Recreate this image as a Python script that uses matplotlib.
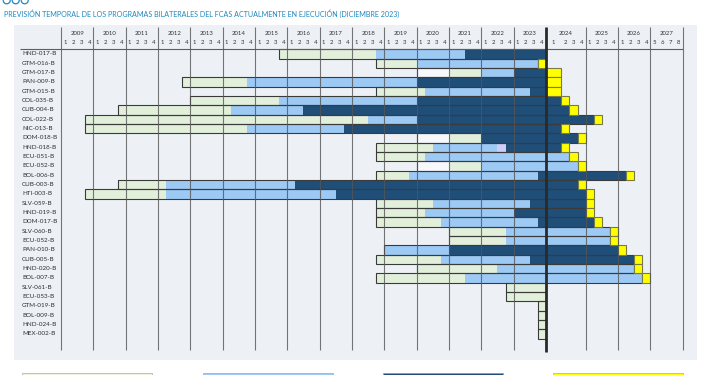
import numpy as np
import matplotlib
matplotlib.use('Agg')
import matplotlib.pyplot as plt
from matplotlib.patches import Rectangle, Ellipse

# ---------------- data (quarters counted from 2009 Q1 = 0) ----------------
codes = ['HND-017-B', 'GTM-016-B', 'GTM-017-B', 'PAN-009-B', 'GTM-015-B', 'COL-035-B',
         'CUB-004-B', 'COL-022-B', 'NIC-013-B', 'DOM-018-B', 'HND-018-B', 'ECU-051-B',
         'ECU-052-B', 'BOL-006-B', 'CUB-003-B', 'HTI-003-B', 'SLV-059-B', 'HND-019-B',
         'DOM-017-B', 'SLV-060-B', 'ECU-052-B', 'PAN-010-B', 'CUB-005-B', 'HND-020-B',
         'BOL-007-B', 'SLV-061-B', 'ECU-053-B', 'GTM-019-B', 'BOL-009-B', 'HND-024-B',
         'MEX-002-B']
N = None
white_start = [N, N, 44, N, N, N, N, N, N, 44, N, N, 44, N, N, N, N, N, N, N, N, N, N, N, N, N, N, N, N, N, N]
white_end   = [N, N, 48, N, N, N, N, N, N, 48, N, N, 48, N, N, N, N, N, N, N, N, N, N, N, N, N, N, N, N, N, N]
green_start = [27, 39, 48, 15, 39, 16, 7, 3, 3, 48, 39, 39, 48, 39, 7, 3, 39, 39, 39, 48, 48, N, 39, 44, 39, 55, 55, 59, 59, 59, 59]
green_end   = [39, 44, 52, 23, 45, 27, 21, 38, 23, 52, 46, 45, 52, 43, 13, 13, 46, 45, 47, 55, 55, N, 47, 54, 50, 60, 60, 60, 60, 60, 60]
light_start = [39, 44, 52, 23, 45, 27, 21, 38, 23, N, 46, 45, 52, 43, 13, 13, 46, 45, 47, 55, 55, 40, 47, 54, 50, N, N, N, N, N, N]
light_end   = [50, 59, 56, 44, 58, 44, 30, 44, 35, N, 54, 62, 63, 59, 29, 34, 58, 56, 59, 67, 67, 48, 58, 70, 71, N, N, N, N, N, N]
lav_start   = [N, N, N, N, N, N, N, N, N, N, 54, N, N, N, N, N, N, N, N, N, N, N, N, N, N, N, N, N, N, N, N]
lav_end     = [N, N, N, N, N, N, N, N, N, N, 55, N, N, N, N, N, N, N, N, N, N, N, N, N, N, N, N, N, N, N, N]
dark_start  = [50, N, 56, 44, 58, 44, 30, 44, 35, 52, 55, N, N, 59, 29, 34, 58, 56, 59, N, N, 48, 58, N, N, N, N, N, N, N, N]
dark_end    = [60, N, 60, 60, 60, 61, 62, 65, 61, 63, 61, N, N, 69, 63, 64, 64, 64, 65, N, N, 68, 70, N, N, N, N, N, N, N, N]
yel_start   = [N, 59, 60, 60, 60, 61, 62, 65, 61, 63, 61, 62, 63, 69, 63, 64, 64, 64, 65, 67, 67, 68, 70, 70, 71, N, N, N, N, N, N]
yel_end     = [N, 60, 61, 61, 61, 62, 63, 66, 62, 64, 62, 63, 64, 70, 64, 65, 65, 65, 66, 68, 68, 69, 71, 71, 72, N, N, N, N, N, N]

years = list(range(2009, 2028))
quarter_labels = [['1', '2', '3', '4']] * 18 + [['5', '6', '7', '8']]

title = 'PREVISIÓN TEMPORAL DE LOS PROGRAMAS BILATERALES DEL FCAS ACTUALMENTE EN EJECUCIÓN (DICIEMBRE 2023)'

# ---------------- styles ----------------
C_WHITE = '#F6F8FB'
C_GREEN = '#E2EFDA'
C_LIGHT = '#9DC9F5'
C_LAV = '#CFCCF7'
C_DARK = '#1F4E79'
C_YEL = '#FFFF00'
C_BG = '#EDF1F6'
C_TITLE = '#1F88BF'
C_EDGE = '#3A3A3A'
FONT = 'Lato'

W, H = 710, 375
fig = plt.figure(figsize=(W / 100, H / 100), dpi=100)
fig.patch.set_facecolor('white')

# axes placed in pixel space
px_l, px_r, px_t, px_b = 14, 697, 25, 360
ax = fig.add_axes([px_l / W, 1 - px_b / H, (px_r - px_l) / W, (px_b - px_t) / H])
ax.set_facecolor(C_BG)
for s in ax.spines.values():
    s.set_visible(False)

Q1W = 1.9  # the first quarter of 2024 is drawn wider


def fwd(t):
    t = np.asarray(t, dtype=float)
    return np.where(t <= 60, t, np.where(t <= 61, 60 + Q1W * (t - 60), t + (Q1W - 1)))


def inv(s):
    s = np.asarray(s, dtype=float)
    return np.where(s <= 60, s, np.where(s <= 60 + Q1W, 60 + (s - 60) / Q1W, s - (Q1W - 1)))


ax.set_xscale('function', functions=(fwd, inv))
ax.set_xticks([])
ax.set_yticks([])
ax.xaxis.set_visible(False)
ax.yaxis.set_visible(False)

x0px, qpx = 61.0, 8.083
s_left = (px_l - x0px) / qpx
s_right = (px_r - x0px) / qpx
ax.set_xlim(float(inv(s_left)), float(inv(s_right)))
y0px, rpx = 54.0, 9.33
ax.set_ylim((px_b - y0px) / rpx, (px_t - y0px) / rpx)


def ypix(p):
    return (p - y0px) / rpx


def xpix(p):
    return float(inv((p - x0px) / qpx))


rows = np.arange(len(codes))


def draw_phase(starts, ends, color, z=2):
    ys, lefts, widths = [], [], []
    for i, (a, b) in enumerate(zip(starts, ends)):
        if a is not None:
            ys.append(i)
            lefts.append(a)
            widths.append(b - a)
    ax.barh(ys, widths, left=lefts, height=1.0, color=color, edgecolor='none',
            linewidth=0, zorder=z)


draw_phase(white_start, white_end, C_WHITE)
draw_phase(green_start, green_end, C_GREEN)
draw_phase(light_start, light_end, C_LIGHT)
draw_phase(lav_start, lav_end, C_LAV)
draw_phase(dark_start, dark_end, C_DARK)

# outline of every bar (without the closing quarter)
for i in rows:
    st = [v for v in (white_start[i], green_start[i], light_start[i], dark_start[i]) if v is not None]
    en = [v for v in (white_end[i], green_end[i], light_end[i], lav_end[i], dark_end[i]) if v is not None]
    if st:
        a, b = min(st), max(en)
        ax.barh(i, b - a, left=a, height=1.0, color='none', edgecolor=C_EDGE,
                linewidth=0.8, zorder=4)

# closing quarter (yellow)
ys = [i for i in rows if yel_start[i] is not None]
ax.barh(ys, [yel_end[i] - yel_start[i] for i in ys], left=[yel_start[i] for i in ys],
        height=1.0, color=C_YEL, edgecolor='#7A7A45', linewidth=0.8, zorder=5)

# year grid lines
bounds = [4 * k for k in range(len(years) + 1)]
ax.vlines([b for b in bounds if b != 60], ypix(27), ypix(350), colors='#555555',
          linewidth=0.8, alpha=0.8, zorder=6)
ax.vlines([60], ypix(27), ypix(352), colors='#2A2A2A', linewidth=2.0, zorder=7)
ax.hlines([ypix(49)], xpix(20), 76, colors='#5E5E5E', linewidth=0.8, zorder=6)

# header texts
for k, yr in enumerate(years):
    a, b = 4 * k, 4 * k + 4
    mid = float(inv((fwd(a) + fwd(b)) / 2))
    ax.text(mid, ypix(33.5), str(yr), ha='center', va='center', fontsize=4.3,
            family=FONT, color='#333333', zorder=8)
    for q, lab in enumerate(quarter_labels[k]):
        qa, qb = a + q, a + q + 1
        qm = float(inv((fwd(qa) + fwd(qb)) / 2))
        ax.text(qm, ypix(42.5), lab, ha='center', va='center', fontsize=4.3,
                family=FONT, color='#333333', zorder=8)

# row labels
for i, c in enumerate(codes):
    ax.text(xpix(22), i, c, ha='left', va='center', fontsize=4.5, family=FONT,
            color='#2E2E2E', zorder=8)

# title and decoration
fig.text(4 / W, 1 - 13.3 / H, title, ha='left', va='center', fontsize=5.1,
         family=FONT, color=C_TITLE)
for cx in (6.7, 15.7, 24.7):
    fig.add_artist(Ellipse((cx / W, 1 - 0.3 / H), 7 / W, 7 / H, transform=fig.transFigure,
                           facecolor='none', edgecolor=C_TITLE, linewidth=0.9))

# legend swatches at the bottom
for (xa, xb), col in zip([(22, 152), (203, 333), (383, 503), (553, 683)],
                         ['#EEF1DD', C_LIGHT, C_DARK, C_YEL]):
    fig.add_artist(Rectangle((xa / W, 0), (xb - xa) / W, 2.5 / H, transform=fig.transFigure,
                             facecolor=col, edgecolor='#8C9AA8', linewidth=0.4))

fig.savefig('out.png', dpi=100)
